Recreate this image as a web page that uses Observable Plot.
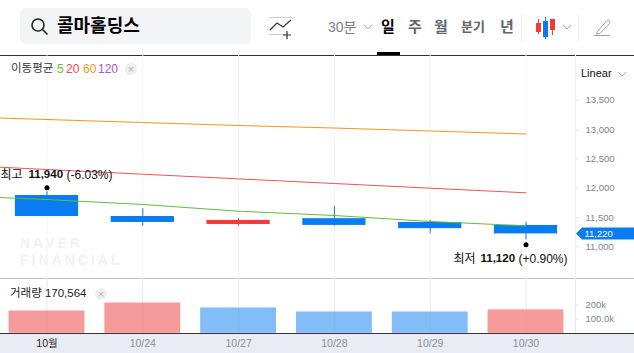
<!DOCTYPE html>
<html lang="ko">
<head>
<meta charset="utf-8">
<script src="https://cdn.jsdelivr.net/npm/d3@7"></script>
<script src="https://cdn.jsdelivr.net/npm/@observablehq/plot@0.6"></script>
<style>
html,body{margin:0;padding:0;background:#fff;overflow:hidden}
#c{position:relative;width:634px;height:353px;overflow:hidden;font-family:"Liberation Sans","Noto Sans CJK KR",sans-serif;color:#333}
#c>*{position:absolute}
.t{white-space:nowrap;line-height:1}
.nav{top:19px;font-size:15px;color:#5f656d;font-weight:700}
.close{width:12px;height:12px;border-radius:50%;background:#efefef;color:#b5b8bc;font-size:11px;line-height:12px;text-align:center}
.wm{font-size:14px;font-weight:700;letter-spacing:3px;color:#f1f2f5}
</style>
</head>
<body>
<div id="c">
  <div style="left:0;top:333px;width:634px;height:20px;background:#e9ecf2"></div>
  <div style="left:20px;top:8px;width:231px;height:36px;border-radius:6px;background:#f3f4f6"></div>
  <svg style="left:30px;top:17px" width="19" height="19" fill="none" stroke="#222" stroke-width="1.6"><circle cx="8" cy="8" r="6"/><path d="M12.5 12.5L17.5 17.5"/></svg>
  <div class="t" style="left:57px;top:17px;font-size:18px;font-weight:700;color:#000">콜마홀딩스</div>
  <svg style="left:268px;top:16px" width="26" height="24" fill="none"><path d="M1 1.5H24M1 18.5H18" stroke="#ccc"/><path d="M2 14L9 7L15 11L23 4" stroke="#333" stroke-width="1.2"/><path d="M20 16V24M16 20H24" stroke="#333" stroke-width="1.2" transform="translate(-1,-1)"/></svg>
  <div class="t" style="left:328px;top:20px;font-size:14px;color:#7b8089">30분</div>
  <svg style="left:363px;top:24px" width="10" height="7" fill="none" stroke="#aab"><path d="M1 1L5 5L9 1"/></svg>
  <div class="t nav" style="left:381px;color:#000;font-size:15px">일</div>
  <div class="t nav" style="left:408px">주</div>
  <div class="t nav" style="left:434px">월</div>
  <div class="t nav" style="left:461px;font-size:13px;top:20px">분기</div>
  <div class="t nav" style="left:500px">년</div>
  <div style="left:377px;top:52px;width:23px;height:3px;background:#000"></div>
  <div style="left:521px;top:14px;width:1px;height:28px;background:#eef0f2"></div>
  <div style="left:578px;top:14px;width:1px;height:28px;background:#eef0f2"></div>
  <svg style="left:534px;top:16px" width="24" height="24"><path d="M4.5 3V18M18.5 3V19" stroke="#f23c3c"/><rect x="2" y="7" width="5" height="9" fill="#f23c3c"/><rect x="16" y="3" width="5" height="11" fill="#f23c3c"/><path d="M11.5 1V23" stroke="#0a7cf2"/><rect x="9" y="5" width="5" height="16" fill="#0a7cf2"/></svg>
  <svg style="left:562px;top:24px" width="10" height="7" fill="none" stroke="#aab"><path d="M1 1L5 5L9 1"/></svg>
  <svg style="left:594px;top:18px" width="18" height="19" fill="none" stroke="#9aa0a6"><path d="M3 14L13 2.5Q14.5 1.5 15.5 2.5T15.5 5.5L6 15.5L2.5 16Z"/><path d="M0 17.5H16"/></svg>
  <div style="left:0;top:55px;width:634px;height:1px;background:#333"></div>
  <div style="left:0;top:278px;width:634px;height:1px;background:#bcc3ca"></div>
  <div class="t wm" style="left:20px;top:236px">NAVER</div>
  <div class="t wm" style="left:20px;top:253px">FINANCIAL</div>
  <div id="p1" style="left:0;top:0"></div>
  <div id="p2" style="left:0;top:0"></div>
  <div style="left:0;top:333px;width:634px;height:1px;background:#333"></div>
  <div class="t" style="left:581px;top:68px;font-size:11px;color:#111">Linear</div>
  <svg style="left:617px;top:71px" width="10" height="7" fill="none" stroke="#aab"><path d="M1 1L5 5L9 1"/></svg>
  <div class="t" style="left:11px;top:63px;font-size:11.5px;background:#fff;padding-right:4px">이동평균</div>
  <div class="t" style="left:57px;top:63px;font-size:12px;color:#6cbf3c">5</div>
  <div class="t" style="left:66px;top:63px;font-size:12px;color:#ee4b4b">20</div>
  <div class="t" style="left:83px;top:63px;font-size:12px;color:#f7941d">60</div>
  <div class="t" style="left:98px;top:63px;font-size:12px;color:#a25ad0">120</div>
  <div class="close" style="left:125px;top:63px">×</div>
  <div class="t" style="left:10px;top:288px;font-size:11.5px;color:#222">거래량 170,564</div>
  <div class="close" style="left:95px;top:288px">×</div>
</div>
<script>
const hiddenDate = "10/22";
const dates = ["10월", "10/24", "10/27", "10/28", "10/29", "10/30"];
const open = [11875, 11517, 11380, 11480, 11415, 11365];
const close = [11517, 11415, 11450, 11365, 11310, 11220];
const high = [11940, 11650, 11480, 11690, 11450, 11420];
const low = [11517, 11350, 11350, 11350, 11220, 11120];
const volume = [162000, 219000, 184000, 155000, 155000, 170564];
const volumeUp = [true, true, false, false, false, true];
const ma5 = [11875, 11807, 11722, 11607, 11534, 11432, 11358];
const ma20 = [12399, 12319, 12239, 12159, 12080, 12000, 11921];
const ma60 = [13224, 13172, 13121, 13070, 13027, 12976, 12925];
const priceTicks = [11000, 11500, 12000, 12500, 13000, 13500];
const volumeTicks = [100000, 200000];
const volumeTickLabels = ["100.0k", "200k"];
const lastPrice = 11220;

const FONT = '"Liberation Sans","Noto Sans CJK KR",sans-serif';
const allDates = [hiddenDate, ...dates];
const xRange = [-97.2, 573.4];
const UP = "#f23c3c", DOWN = "#0a7cf2";
const candles = dates.map((date, i) => ({date, open: open[i], close: close[i], high: high[i], low: low[i]}));
const vols = dates.map((date, i) => ({date, v: volume[i], up: volumeUp[i]}));
const series = (vals) => allDates.map((date, i) => ({date, v: vals[i]}));
const fmt = d3.format(",");

const tag = (index, {y}) => {
  const py = y(lastPrice);
  const p = d3.create("svg:path")
    .attr("d", `M576 ${py}L582 ${py - 6}H634V${py + 6}H582Z`)
    .attr("fill", DOWN);
  return p.node();
};
const note = (value, text, dy, dx, weight, size) => Plot.text([value], {
  x: () => value === high[0] ? dates[0] : dates[5], y: d => d, text: () => text, dy, dx,
  textAnchor: "start", fontSize: size, fontWeight: weight, fill: "#111"
});

const price = Plot.plot({
  width: 634, height: 278, marginTop: 55, marginBottom: 0, marginLeft: 0, marginRight: 59,
  style: {background: "transparent", fontFamily: FONT, overflow: "hidden"},
  x: {type: "band", domain: allDates, range: xRange, paddingInner: 0.34, paddingOuter: 0.17, round: false, axis: null},
  y: {domain: [11000, 13500], range: [246.3, 99.8], axis: null},
  marks: [
    Plot.ruleX(dates, {x: d => d, stroke: "#f2f4f6"}),
    Plot.frame({anchor: "right", stroke: "#eef0f2"}),
    Plot.axisY({anchor: "right", ticks: priceTicks, tickFormat: fmt, tickSize: 3, tickPadding: 7, fontSize: 9.5, fill: "#7f858e", stroke: "#e4e6ea", label: null}),
    Plot.ruleX(candles, {x: "date", y1: "low", y2: "high", stroke: d => d.close >= d.open ? UP : DOWN}),
    Plot.barY(candles, {x: "date", y1: "open", y2: "close", fill: d => d.close >= d.open ? UP : DOWN}),
    Plot.line(series(ma60), {x: "date", y: "v", stroke: "#f7941d", strokeWidth: 1}),
    Plot.line(series(ma20), {x: "date", y: "v", stroke: "#ee5555", strokeWidth: 1}),
    Plot.line(series(ma5), {x: "date", y: "v", stroke: "#5fbf37", strokeWidth: 1}),
    Plot.dot([{date: dates[0], v: high[0]}], {x: "date", y: "v", r: 2.5, fill: "#000", dy: -4}),
    Plot.dot([{date: dates[5], v: low[5]}], {x: "date", y: "v", r: 2.5, fill: "#000", dy: 5}),
    note(high[0], "최고", -17, -46.5, 400, 12),
    note(high[0], "11,940", -17, -18.5, 700, 11.5),
    note(high[0], "(-6.03%)", -17, 19.5, 400, 12),
    note(low[5], "최저", 19, -72.5, 400, 12),
    note(low[5], "11,120", 19, -45.5, 700, 11.5),
    note(low[5], "(+0.90%)", 19, -7.5, 400, 12),
    tag,
    Plot.text([lastPrice], {y: d => d, text: fmt, frameAnchor: "right", dx: 9, textAnchor: "start", fontSize: 9.5, fill: "#fff"})
  ]
});
document.getElementById("p1").append(price);

const vol = Plot.plot({
  width: 634, height: 353, marginTop: 278, marginBottom: 20, marginLeft: 0, marginRight: 59,
  style: {background: "transparent", fontFamily: FONT, overflow: "hidden"},
  x: {type: "band", domain: allDates, range: xRange, paddingInner: 0.21, paddingOuter: 0.105, round: false, axis: null},
  y: {domain: [0, 200000], range: [332.7, 304.7], axis: null},
  marks: [
    Plot.ruleX(dates, {x: d => d, stroke: "#f2f4f6"}),
    Plot.barY(vols, {x: "date", y: "v", fill: d => d.up ? "#f9cccc" : "#c0dcf8"}),
    Plot.barY(vols, {x: "date", y: "v", insetTop: 1, fill: d => d.up ? "#f69b9b" : "#82bcf9"}),
    Plot.ruleX(dates, {x: d => d, stroke: "#888", strokeOpacity: 0.1}),
    Plot.frame({anchor: "right", stroke: "#e8eaed"}),
    Plot.axisY({anchor: "right", ticks: volumeTicks, tickFormat: d => volumeTickLabels[volumeTicks.indexOf(d)], tickSize: 3, tickPadding: 7, fontSize: 9.5, fill: "#7f858e", stroke: "#e4e6ea", label: null}),
    Plot.text(dates, {x: d => d, text: d => d, frameAnchor: "bottom", dy: 13, fontSize: 10.5, fill: d => d === dates[0] ? "#222" : "#8a9099"})
  ]
});
document.getElementById("p2").append(vol);
</script>
</body>
</html>
